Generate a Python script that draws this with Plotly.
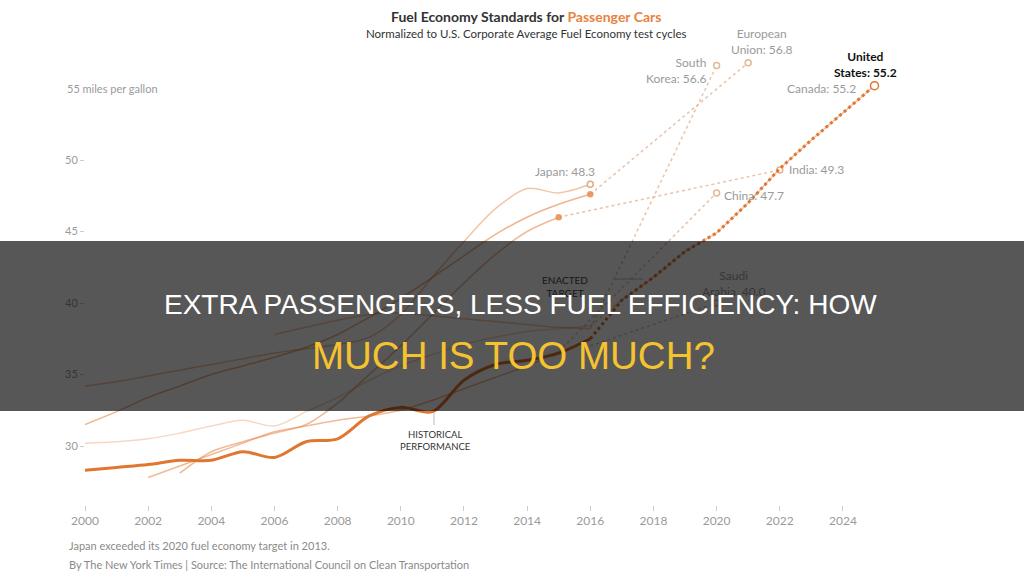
import plotly.graph_objects as go

# ---------------- data ----------------
us_hist_years = list(range(2000, 2017))
us_hist = [28.3, 28.5, 28.7, 29.0, 29.0, 29.6, 29.2, 30.3, 30.5, 32.1, 32.7, 32.4, 34.6, 35.7, 36.0, 36.5, 37.5]
us_target_years = list(range(2016, 2026))
us_target = [37.5, 40.2, 41.8, 43.6, 44.9, 47.0, 49.4, 51.4, 53.3, 55.2]

canada_hist_years = list(range(2000, 2017))
canada_hist = [30.2, 30.3, 30.5, 30.9, 31.4, 31.8, 31.4, 32.4, 33.4, 34.6, 35.6, 36.4, 37.1, 37.6, 38.0, 38.2, 38.4]
canada_target_years = list(range(2016, 2026))
canada_target = [38.4, 40.2, 41.8, 43.6, 44.9, 47.0, 49.4, 51.4, 53.3, 55.2]

eu_hist_years = list(range(2000, 2017))
eu_hist = [31.5, 32.4, 33.4, 34.2, 35.0, 35.6, 36.2, 36.9, 37.8, 39.0, 40.3, 41.8, 43.3, 44.8, 46.0, 46.9, 47.6]
eu_target_years = [2016, 2021]
eu_target = [47.6, 56.8]

japan_hist_years = list(range(2000, 2017))
japan_hist = [34.2, 34.5, 34.9, 35.3, 35.7, 36.1, 36.5, 36.8, 37.1, 37.6, 39.2, 41.8, 44.3, 46.6, 48.0, 47.7, 48.3]

china_hist_years = list(range(2002, 2016))
china_hist = [27.8, 28.6, 29.4, 30.2, 31.0, 31.4, 31.8, 32.1, 32.5, 33.2, 34.0, 34.8, 35.6, 36.6]
china_target_years = [2015, 2020]
china_target = [36.6, 47.7]

india_hist_years = list(range(2003, 2016))
india_hist = [28.1, 29.6, 30.3, 30.9, 31.5, 33.0, 35.0, 37.0, 39.2, 41.4, 43.4, 45.0, 46.0]
india_target_years = [2015, 2022]
india_target = [46.0, 49.3]

korea_hist_years = list(range(2006, 2017))
korea_hist = [37.8, 38.3, 38.8, 39.2, 39.3, 39.1, 38.9, 38.7, 38.5, 38.3, 38.2]
korea_target_years = [2016, 2020]
korea_target = [38.2, 56.6]

saudi_target_years = [2016, 2020]
saudi_target = [37.0, 40.0]

x_ticks = [2000, 2002, 2004, 2006, 2008, 2010, 2012, 2014, 2016, 2018, 2020, 2022, 2024]
y_ticks = [30, 35, 40, 45, 50]
y_tick_text = ["30", "35", "40", "45", "50"]

# ---------------- figure ----------------
FONT = "Lato, Roboto, 'Open Sans', sans-serif"
ORANGE = "#e0762f"
fig = go.Figure()


def hist_line(xs, ys, color, width=1.5):
    fig.add_trace(go.Scatter(x=xs, y=ys, mode="lines", line=dict(color=color, width=width, shape="spline", smoothing=0.9),
                             hoverinfo="skip", showlegend=False, cliponaxis=False))


def target_line(xs, ys, color, width=1.5):
    fig.add_trace(go.Scatter(x=xs, y=ys, mode="lines", line=dict(color=color, width=width, dash="dot"),
                             hoverinfo="skip", showlegend=False, cliponaxis=False))


def end_marker(x, y, color, open_=True, size=6):
    fig.add_trace(go.Scatter(x=[x], y=[y], mode="markers",
                             marker=dict(size=size, color="white" if open_ else color,
                                         line=dict(color=color, width=1.5)),
                             hoverinfo="skip", showlegend=False, cliponaxis=False))


PALE = "rgba(232,140,80,0.45)"
PALE2 = "rgba(232,140,80,0.6)"
DOT_PALE = "rgba(225,175,140,0.75)"

hist_line(canada_hist_years, canada_hist, "rgba(232,140,80,0.35)")
hist_line(korea_hist_years, korea_hist, PALE)
hist_line(china_hist_years, china_hist, PALE2)
hist_line(india_hist_years, india_hist, PALE2)
hist_line(eu_hist_years, eu_hist, "rgba(232,130,70,0.6)")
hist_line(japan_hist_years, japan_hist, "rgba(232,140,80,0.5)")

target_line(korea_target_years, korea_target, DOT_PALE)
target_line(eu_target_years, eu_target, DOT_PALE)
target_line(china_target_years, china_target, DOT_PALE)
target_line(india_target_years, india_target, DOT_PALE)
target_line(saudi_target_years, saudi_target, DOT_PALE)
target_line(canada_target_years, canada_target, DOT_PALE)

end_marker(eu_hist_years[-1], eu_hist[-1], "rgba(232,140,80,0.8)", open_=False, size=5)
end_marker(india_hist_years[-1], india_hist[-1], "rgba(232,140,80,0.8)", open_=False, size=5)
end_marker(japan_hist_years[-1], japan_hist[-1], "rgba(225,170,130,1)")
end_marker(korea_target_years[-1], korea_target[-1], "rgba(225,185,150,1)")
end_marker(eu_target_years[-1], eu_target[-1], "rgba(225,185,150,1)")
end_marker(china_target_years[-1], china_target[-1], "rgba(225,185,150,1)")
end_marker(india_target_years[-1], india_target[-1], "rgba(235,175,140,1)")
end_marker(saudi_target_years[-1], saudi_target[-1], "rgba(225,185,150,1)")

# US
fig.add_trace(go.Scatter(x=us_hist_years, y=us_hist, mode="lines",
                         line=dict(color=ORANGE, width=3, shape="spline", smoothing=0.9),
                         hoverinfo="skip", showlegend=False, cliponaxis=False))
fig.add_trace(go.Scatter(x=us_target_years, y=us_target, mode="lines",
                         line=dict(color=ORANGE, width=3, dash="dot"),
                         hoverinfo="skip", showlegend=False, cliponaxis=False))
end_marker(us_target_years[-1], us_target[-1], ORANGE, size=8)

# ---------------- layout ----------------
W, H = 1024, 588
L, R, T, B = 85, 24, 40, 83
pw, ph = W - L - R, H - T - B
px_per_year = 31.58
px_per_mpg = 14.3
x0 = 2000
x1 = x0 + pw / px_per_year
y_bottom = 30 - (505 - 446) / px_per_mpg
y_top = 30 + (446 - 40) / px_per_mpg


def px(xp):
    return (xp - L) / pw


def py(yp):
    return (H - B - yp) / ph


GREY = "#9a9a9a"
fig.update_layout(
    width=W, height=H, margin=dict(l=L, r=R, t=T, b=B),
    paper_bgcolor="white", plot_bgcolor="white",
    font=dict(family=FONT, color=GREY, size=12),
    xaxis=dict(range=[x0, x1], tickvals=x_ticks, showgrid=False, zeroline=False, showline=False,
               ticks="outside", ticklen=5, tickcolor="#cccccc", tickwidth=1,
               tickfont=dict(size=12, color=GREY)),
    yaxis=dict(range=[y_bottom, y_top], tickvals=y_ticks, ticktext=y_tick_text, showgrid=False,
               zeroline=False, showline=False, ticks="outside", ticklen=4, tickcolor="#cccccc",
               tickfont=dict(size=11, color=GREY)),
)

ann = []


def A(text, x, y, xref="x", yref="y", xanchor="center", yanchor="middle", size=12, color=GREY, align="center", family=FONT):
    ann.append(dict(text=text, x=x, y=y, xref=xref, yref=yref, xanchor=xanchor, yanchor=yanchor,
                    showarrow=False, align=align, font=dict(size=size, color=color, family=family)))


A("<b>Fuel Economy Standards for <span style='color:#e8823f'>Passenger Cars</span></b>", px(526), py(17),
  xref="paper", yref="paper", size=14, color="#333333")
A("Normalized to U.S. Corporate Average Fuel Economy test cycles", px(526), py(34),
  xref="paper", yref="paper", size=11.5, color="#333333")
A("55 miles per gallon", px(65), 55, xref="paper", xanchor="left", size=11)

A("Japan: 48.3", 2015.2, 49.2, size=12)
A("South<br>Korea: 56.6", px(709), py(70), xref="paper", yref="paper", xanchor="right", align="right", size=12)
A("European<br>Union: 56.8", px(762), py(41), xref="paper", yref="paper", size=12)
A("<b>United<br>States: 55.2</b>", px(865), py(65), xref="paper", yref="paper", size=12, color="#111111")
A("Canada: 55.2", px(858), py(89), xref="paper", yref="paper", xanchor="right", size=12)
A("India: 49.3", px(787), py(169), xref="paper", yref="paper", xanchor="left", size=12)
A("China: 47.7", px(722), py(196), xref="paper", yref="paper", xanchor="left", size=12)
A("Saudi<br>Arabia, 40.0", px(733), py(283), xref="paper", yref="paper", size=12, color="#363636")
A("ENACTED<br>TARGET", px(565), py(286), xref="paper", yref="paper", size=10, color="#151515")
A("HISTORICAL<br>PERFORMANCE", px(435), py(440), xref="paper", yref="paper", size=9.5, color="#333333")

A("Japan exceeded its 2020 fuel economy target in 2013.", px(67), py(545), xref="paper", yref="paper",
  xanchor="left", size=11, color="#8a8a8a")
A("By The New York Times | Source: The International Council on Clean Transportation", px(67), py(564),
  xref="paper", yref="paper", xanchor="left", size=11, color="#8a8a8a")

BANNER_FONT = "'Liberation Sans', Arial, sans-serif"
A("EXTRA PASSENGERS, LESS FUEL EFFICIENCY: HOW", px(520), py(305), xref="paper", yref="paper",
  size=28, color="#ffffff", family=BANNER_FONT)
A("MUCH IS TOO MUCH?", px(513), py(355), xref="paper", yref="paper",
  size=38.5, color="#f5c330", family=BANNER_FONT)

fig.update_layout(annotations=ann)

shapes = [
    # leader lines
    dict(type="line", xref="paper", yref="paper", x0=px(434), x1=px(434), y0=py(413), y1=py(425),
         line=dict(color="#bbbbbb", width=1)),
    dict(type="line", xref="paper", yref="paper", x0=px(615), x1=px(643), y0=py(279), y1=py(279),
         line=dict(color="#bbbbbb", width=1)),
    # banner
    dict(type="rect", xref="paper", yref="paper", x0=px(0), x1=px(W), y0=py(411), y1=py(241),
         fillcolor="rgba(0,0,0,0.66)", line=dict(width=0), layer="above"),
]
fig.update_layout(shapes=shapes)

fig.write_html("out.html")
